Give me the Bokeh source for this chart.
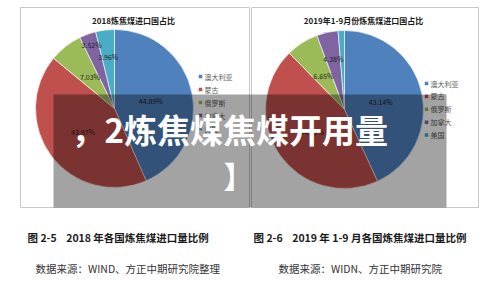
import numpy as np
from bokeh.plotting import figure
from bokeh.models import Range1d, ColumnDataSource
from bokeh.core.properties import value
from bokeh.embed import file_html
from bokeh.resources import INLINE

# ---------------- data ----------------
countries = ["澳大利亚", "蒙古", "俄罗斯", "加拿大", "美国"]
share_2018 = [44.89, 43.97, 7.03, 3.52, 3.96]
share_2019 = [43.14, 44.53, 6.65, 4.38, 1.30]
titles = ["2018炼焦煤进口国占比", "2019年1-9月份炼焦煤进口国占比"]
captions = ["图 2-5\u00a0\u00a0\u00a0\u00a02018 年各国炼焦煤进口量比例",
            "图 2-6\u00a0\u00a0\u00a0\u00a02019 年 1-9 月各国炼焦煤进口量比例"]
sources = ["数据来源：WIND、方正中期研究院整理", "数据来源：WIDN、方正中期研究院"]
overlay_lines = ["，2炼焦煤焦煤开用量", "】"]

# ---------------- styles / layout ----------------
colors = ["#4F81BD", "#C0504D", "#9BBB59", "#8064A2", "#4BACC6"]
W, H = 500, 303
FONT = value("Noto Sans CJK SC")

def Y(y):  # image-space y (top = 0) -> plot y
    return H - y

panels = [
    dict(values=share_2018, title=titles[0], caption=captions[0], source=sources[0],
         frame=(20, 7, 249, 207), center=(114, 108), r=79, title_xy=(133, 20),
         legend=(200, 76), step=13, label_r=[0.47, 0.5, 0.5, 0.85, 0.66],
         caption_xy=(27, 237), source_xy=(35, 268)),
    dict(values=share_2019, title=titles[1], caption=captions[1], source=sources[1],
         frame=(251, 7, 478, 207), center=(344, 109), r=79, title_xy=(363, 20),
         legend=(426, 83), step=12.9, label_r=[0.47, 0.5, 0.5, 0.65, 0.66],
         caption_xy=(253, 237), source_xy=(278, 268)),
]

p = figure(width=W, height=H, output_backend="svg", toolbar_location=None,
           x_range=Range1d(0, W), y_range=Range1d(0, H), min_border=0)
p.axis.visible = False
p.grid.visible = False
p.outline_line_color = None
p.background_fill_color = "white"

for pn in panels:
    vals = np.array(pn["values"], dtype=float)
    frac = vals / vals.sum()
    cum = np.concatenate([[0], np.cumsum(frac)])
    cx, cy = pn["center"]
    r = pn["r"]
    # frame
    x0, y0, x1, y1 = pn["frame"]
    p.quad(left=x0, right=x1, top=Y(y0), bottom=Y(y1), fill_color="white",
           line_color="#C8C8C8", line_width=1)
    # wedges
    src = ColumnDataSource(dict(
        start=np.pi / 2 - cum[:-1] * 2 * np.pi,
        end=np.pi / 2 - cum[1:] * 2 * np.pi,
        color=colors))
    p.wedge(x=cx, y=Y(cy), radius=r, start_angle="start", end_angle="end",
            direction="clock", fill_color="color", line_color="white",
            line_width=0.6, source=src)
    # data labels
    mid = (cum[:-1] + cum[1:]) / 2 * 2 * np.pi
    lx, ly, lt = [], [], []
    for i, v in enumerate(vals):
        if v < 2:
            continue
        rr = pn["label_r"][i] * r
        lx.append(cx + rr * np.sin(mid[i]))
        ly.append(Y(cy) + rr * np.cos(mid[i]))
        lt.append(f"{v:.2f}%")
    p.text(x=lx, y=ly, text=lt, text_font=FONT, text_font_size="7px",
           text_color="#1F1F1F", text_align="center", text_baseline="middle")
    # title
    tx, ty = pn["title_xy"]
    p.text(x=[tx], y=[Y(ty)], text=[pn["title"]], text_font=FONT,
           text_font_size="8px", text_font_style="bold", text_color="#1A1A1A",
           text_align="center", text_baseline="middle")
    # legend
    lgx, lgy = pn["legend"]
    ys = [Y(lgy + k * pn["step"]) for k in range(len(countries))]
    p.rect(x=[lgx] * len(countries), y=ys, width=3.5, height=3.5,
           fill_color=colors, line_color=None)
    p.text(x=[lgx + 4] * len(countries), y=ys, text=countries, text_font=FONT,
           text_font_size="7px", text_color="#595959", text_align="left",
           text_baseline="middle")
    # caption & source
    cx0, cy0 = pn["caption_xy"]
    p.text(x=[cx0], y=[Y(cy0)], text=[pn["caption"]], text_font=FONT,
           text_font_size="10.5px", text_font_style="bold", text_color="#1A1A1A",
           text_align="left", text_baseline="middle")
    sx0, sy0 = pn["source_xy"]
    p.text(x=[sx0], y=[Y(sy0)], text=[pn["source"]], text_font=FONT,
           text_font_size="10.5px", text_color="#333333", text_align="left",
           text_baseline="middle")

# dark overlay
p.quad(left=53, right=446, top=Y(94), bottom=Y(207), fill_color="black",
       fill_alpha=0.36, line_color=None)
p.text(x=[71], y=[Y(128)], text=[overlay_lines[0]], text_font=FONT,
       text_font_size="33px", text_font_style="bold", text_color="white",
       text_align="left", text_baseline="middle")
p.text(x=[238], y=[Y(174)], text=[overlay_lines[1]], text_font=FONT,
       text_font_size="30px", text_font_style="bold", text_color="white",
       text_align="center", text_baseline="middle")

open("out.html", "w").write(file_html(p, INLINE))
